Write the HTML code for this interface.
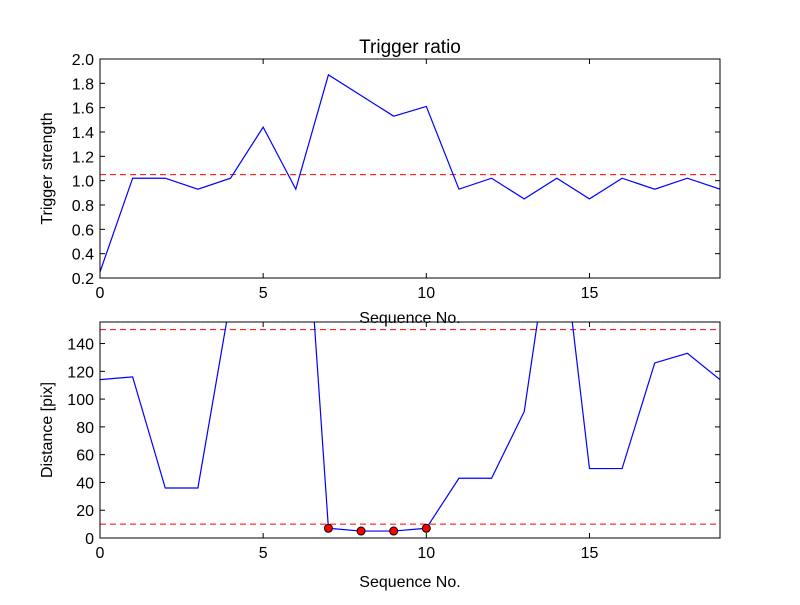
<!DOCTYPE html>
<html><head><meta charset="utf-8"><style>
body{margin:0;background:#fff;}
svg text{font-family:"Liberation Sans",sans-serif;fill:#000;}
</style></head><body>
<svg id="c" width="800" height="600" xmlns="http://www.w3.org/2000/svg">
<rect width="800" height="600" fill="#fff"/>
<defs>
<clipPath id="c1"><rect x="100" y="59" width="620" height="219"/></clipPath>
<clipPath id="c2"><rect x="100" y="322" width="620" height="216"/></clipPath>
</defs>
<g id="g"></g>
</svg>
<script>
const seq = [0,1,2,3,4,5,6,7,8,9,10,11,12,13,14,15,16,17,18,19];
const strength = [0.25,1.02,1.02,0.93,1.02,1.44,0.93,1.87,1.70,1.53,1.61,0.93,1.02,0.85,1.02,0.85,1.02,0.93,1.02,0.93];
const strengthThreshold = 1.05;
const distance = [114,116,36,36,172,300,350,7,5,5,7,43,43,91,250,50,50,126,133,114];
const distanceThresholds = [150,10];
const flagged = [7,8,9,10];
const xTicks = [0,5,10,15];
const topTicks = [0.2,0.4,0.6,0.8,1.0,1.2,1.4,1.6,1.8,2.0];
const botTicks = [0,20,40,60,80,100,120,140];

const NS="http://www.w3.org/2000/svg";
const g=document.getElementById('g');
function el(t,a,txt){const e=document.createElementNS(NS,t);for(const k in a)e.setAttribute(k,a[k]);if(txt!==undefined)e.textContent=txt;g.appendChild(e);return e;}
const X=v=>100+v*(620/19);
function panel(top,h,ymin,ymax,ticks,fmt,vals,thr,clip,name,ylabel,title,xlOff){
  const Y=v=>top+h-(v-ymin)/(ymax-ymin)*h;
  thr.forEach(t=>{const e=el('line',{x1:100,x2:720,y1:Y(t),y2:Y(t),stroke:'#f00','stroke-width':1,'stroke-dasharray':'6,4'});
    
    });
  const p=el('polyline',{points:vals.map((v,i)=>X(seq[i])+','+Y(v)).join(' '),fill:'none',stroke:'#00f','stroke-width':1.2,'clip-path':'url(#'+clip+')'});
  
  
  const f=el('rect',{x:100,y:top,width:620,height:h,fill:'none',stroke:'#000','stroke-width':1});
  
  
  xTicks.forEach(t=>{
    el('line',{x1:X(t),x2:X(t),y1:top+h,y2:top+h-5,stroke:'#000'});
    el('line',{x1:X(t),x2:X(t),y1:top,y2:top+5,stroke:'#000'});
    const tx=el('text',{x:X(t),y:top+h+20,'text-anchor':'middle','font-size':16},t);
    
    
  });
  ticks.forEach(t=>{
    el('line',{x1:100,x2:105,y1:Y(t),y2:Y(t),stroke:'#000'});
    el('line',{x1:715,x2:720,y1:Y(t),y2:Y(t),stroke:'#000'});
    const tx=el('text',{x:94,y:Y(t)+6,'text-anchor':'end','font-size':16},fmt(t));
    
    
  });
  const xl=el('text',{x:410,y:top+h+xlOff,'text-anchor':'middle','font-size':16},'Sequence No.');
  
  
  const yl=el('text',{x:0,y:0,'text-anchor':'middle','font-size':16,transform:'translate(52,'+(top+h/2)+') rotate(-90)'},ylabel);
  
  
  if(title){const tt=el('text',{x:410,y:top-6,'text-anchor':'middle','font-size':19},title);
    
    }
  return Y;
}
panel(59,219,0.2,2.0,topTicks,v=>v.toFixed(1),strength,[strengthThreshold],'c1','top','Trigger strength','Trigger ratio',45);
const Yb=panel(322,216,0,155.5,botTicks,v=>String(v),distance,distanceThresholds,'c2','bottom','Distance [pix]',null,49);
flagged.forEach(i=>{
  const c=el('circle',{cx:X(seq[i]),cy:Yb(distance[i]),r:4,fill:'#f00',stroke:'#000','stroke-width':1});
  
  
});
</script>
</body></html>
